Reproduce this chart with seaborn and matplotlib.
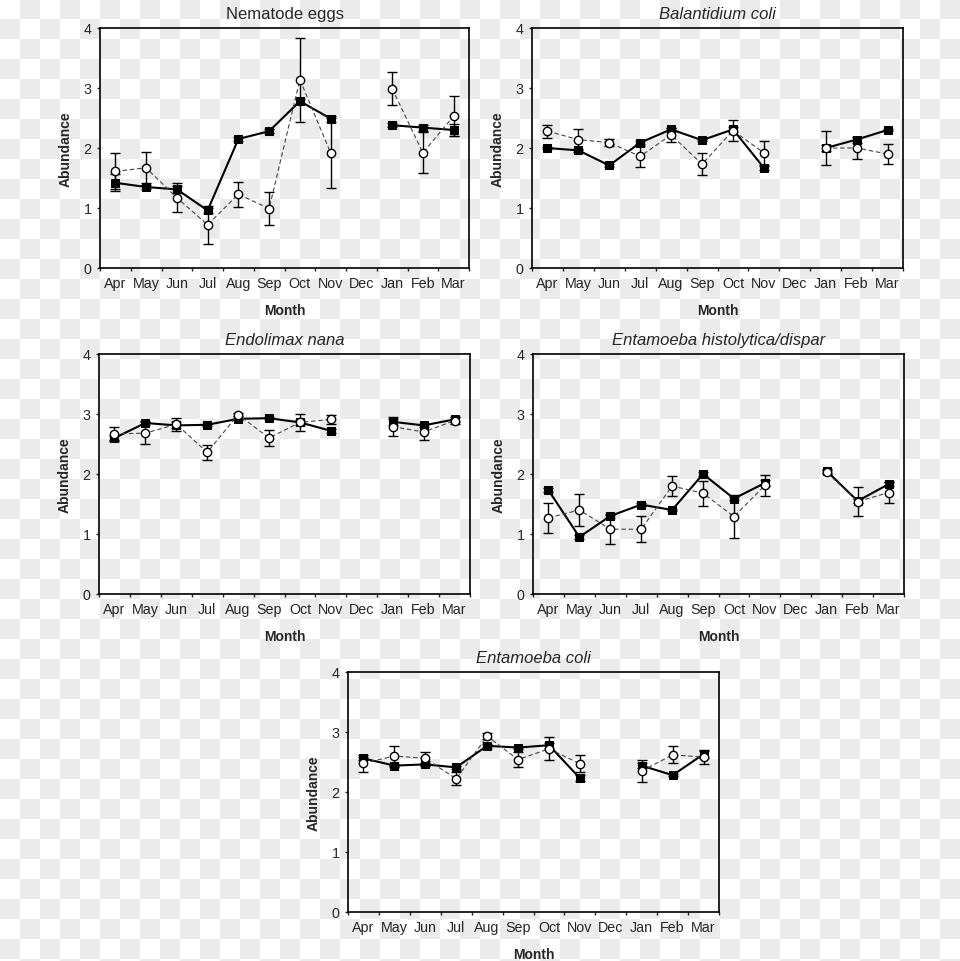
import numpy as np
import pandas as pd
import matplotlib
matplotlib.use("Agg")
import matplotlib.pyplot as plt
import seaborn as sns

months = ["Apr", "May", "Jun", "Jul", "Aug", "Sep", "Oct", "Nov", "Dec", "Jan", "Feb", "Mar"]
nan = np.nan

# Nematode eggs
nema_sq = [1.42, 1.35, 1.31, 0.96, 2.15, 2.28, 2.78, 2.49, nan, 2.38, 2.34, 2.30]
nema_sq_err = [0.14, 0.04, 0.06, 0.04, 0.03, 0.03, 0.04, 0.05, nan, 0.03, 0.05, 0.10]
nema_ci = [1.61, 1.67, 1.17, 0.72, 1.23, 0.99, 3.14, 1.92, nan, 2.99, 1.92, 2.53]
nema_ci_err = [0.30, 0.26, 0.24, 0.32, 0.21, 0.28, 0.70, 0.58, nan, 0.28, 0.34, 0.33]

# Balantidium coli
bal_sq = [2.00, 1.96, 1.71, 2.09, 2.31, 2.13, 2.31, 1.67, nan, 2.00, 2.14, 2.30]
bal_sq_err = [0.02, 0.02, 0.02, 0.03, 0.03, 0.02, 0.04, 0.03, nan, 0.29, 0.05, 0.02]
bal_ci = [2.28, 2.14, 2.09, 1.86, 2.22, 1.73, 2.29, 1.92, nan, 2.00, 2.00, 1.90]
bal_ci_err = [0.11, 0.17, 0.06, 0.18, 0.12, 0.18, 0.17, 0.20, nan, 0.05, 0.18, 0.17]

# Endolimax nana
endo_sq = [2.60, 2.85, 2.81, 2.82, 2.92, 2.93, 2.86, 2.72, nan, 2.87, 2.81, 2.91]
endo_sq_err = [0.03, 0.03, 0.05, 0.02, 0.02, 0.02, 0.04, 0.03, nan, 0.05, 0.03, 0.04]
endo_ci = [2.67, 2.68, 2.83, 2.36, 2.99, 2.60, 2.86, 2.91, nan, 2.79, 2.70, 2.89]
endo_ci_err = [0.12, 0.18, 0.11, 0.13, 0.03, 0.14, 0.14, 0.07, nan, 0.16, 0.14, 0.06]

# Entamoeba histolytica/dispar
hist_sq = [1.73, 0.95, 1.30, 1.49, 1.40, 2.00, 1.59, 1.85, nan, 2.05, 1.55, 1.83]
hist_sq_err = [0.03, 0.03, 0.03, 0.02, 0.02, 0.03, 0.03, 0.05, nan, 0.03, 0.04, 0.03]
hist_ci = [1.27, 1.40, 1.08, 1.08, 1.80, 1.68, 1.29, 1.81, nan, 2.03, 1.54, 1.69]
hist_ci_err = [0.25, 0.26, 0.24, 0.22, 0.16, 0.21, 0.36, 0.18, nan, 0.03, 0.24, 0.18]

# Entamoeba coli
ecoli_sq = [2.56, 2.44, 2.46, 2.41, 2.77, 2.74, 2.78, 2.23, nan, 2.44, 2.28, 2.63]
ecoli_sq_err = [0.03, 0.02, 0.03, 0.03, 0.03, 0.03, 0.04, 0.05, nan, 0.04, 0.02, 0.06]
ecoli_ci = [2.48, 2.60, 2.56, 2.22, 2.93, 2.54, 2.72, 2.47, nan, 2.35, 2.62, 2.58]
ecoli_ci_err = [0.14, 0.16, 0.11, 0.11, 0.05, 0.13, 0.19, 0.14, nan, 0.18, 0.14, 0.12]

panels = [
    ("Nematode eggs", "normal", nema_sq, nema_sq_err, nema_ci, nema_ci_err),
    ("Balantidium coli", "italic", bal_sq, bal_sq_err, bal_ci, bal_ci_err),
    ("Endolimax nana", "italic", endo_sq, endo_sq_err, endo_ci, endo_ci_err),
    ("Entamoeba histolytica/dispar", "italic", hist_sq, hist_sq_err, hist_ci, hist_ci_err),
    ("Entamoeba coli", "italic", ecoli_sq, ecoli_sq_err, ecoli_ci, ecoli_ci_err),
]

# axes boxes in pixels: left, right, top, bottom
boxes = [(100, 469, 29, 269), (532, 903, 29, 269),
         (99, 470, 355, 595), (533, 904, 355, 595),
         (348, 719, 673, 913)]

W, H = 960, 962

sns.set_style("ticks")
plt.rcParams["font.family"] = ["Liberation Sans", "DejaVu Sans"]

fig = plt.figure(figsize=(W / 100, H / 100), dpi=100)

# transparent-checker backdrop
yy, xx = np.mgrid[0:H, 0:W]
checker = ((xx // 20 + yy // 20) % 2).astype(float)
bg = np.where(checker[..., None] == 1, 235 / 255, 1.0) * np.ones((H, W, 3))
fig.figimage(bg, xo=0, yo=0, origin="upper", zorder=-10)

pos = np.arange(12) + 0.5
seg = [0] * 8 + [1] * 4

for (title, style, sq, sq_err, ci, ci_err), (l, r, t, b) in zip(panels, boxes):
    ax = fig.add_axes([l / W, 1 - b / H, (r - l) / W, (b - t) / H])
    ax.set_facecolor("none")

    df = pd.DataFrame({"pos": pos, "seg": seg, "sq": sq, "sq_err": sq_err,
                       "ci": ci, "ci_err": ci_err}).dropna()

    ax.errorbar(df["pos"], df["sq"], yerr=df["sq_err"], fmt="none", ecolor="black",
                elinewidth=1.0, capsize=3.5, capthick=1.0, zorder=2)
    ax.errorbar(df["pos"], df["ci"], yerr=df["ci_err"], fmt="none", ecolor="black",
                elinewidth=1.0, capsize=3.5, capthick=1.0, zorder=2)

    sns.lineplot(data=df, x="pos", y="sq", units="seg", estimator=None, ax=ax,
                 color="black", linewidth=1.5, marker="s", markersize=5.5,
                 markerfacecolor="black", markeredgecolor="black", zorder=3)
    sns.lineplot(data=df, x="pos", y="ci", units="seg", estimator=None, ax=ax,
                 color="#444444", linewidth=0.8, linestyle=(0, (4, 2.5)),
                 marker="o", markersize=6, markerfacecolor="white",
                 markeredgecolor="black", markeredgewidth=1.0, zorder=4)

    ax.set_xlim(0, 12)
    ax.set_ylim(0, 4)
    ax.set_xticks(np.arange(13))
    ax.set_xticklabels([])
    ax.set_xticks(pos, minor=True)
    ax.set_xticklabels(months, minor=True)
    ax.tick_params(axis="x", which="major", length=2.5, width=1, direction="out")
    ax.tick_params(axis="x", which="minor", length=0, pad=6, labelsize=10.3)
    ax.set_yticks([0, 1, 2, 3, 4])
    ax.tick_params(axis="y", length=2.5, width=1, pad=3.5, labelsize=10.3)

    for side in ["left", "bottom", "top", "right"]:
        ax.spines[side].set_visible(True)
        ax.spines[side].set_color("black")
        ax.spines[side].set_linewidth(1.2)

    ax.set_xlabel("Month", fontsize=10, fontweight="bold", labelpad=9)
    ax.set_ylabel("Abundance", fontsize=10, fontweight="bold", labelpad=8)
    ax.set_title(title, fontsize=12, fontstyle=style, pad=7)

fig.savefig("out.png", dpi=100)
